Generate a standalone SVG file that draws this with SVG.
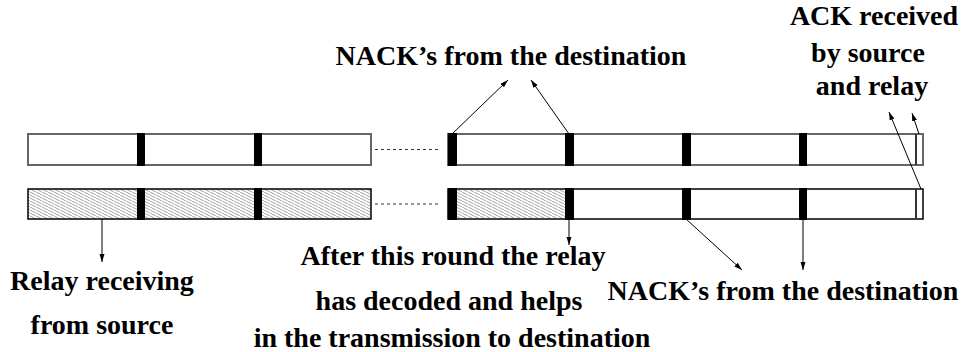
<svg xmlns="http://www.w3.org/2000/svg" width="966" height="352" viewBox="0 0 966 352">
<style>
.lbl{font-family:"Liberation Serif","Times New Roman",serif;font-weight:bold;font-size:28px;fill:#000;text-anchor:middle}
.topbox{fill:#fff;stroke:#666;stroke-width:2}
.botbox{stroke:#000;stroke-width:1.5}
.bar{fill:#000}
.conn{stroke:#000;stroke-width:1;fill:none}
.arrow{marker-end:url(#ah)}
.dash{stroke:#333;stroke-width:1;stroke-dasharray:3 3}
</style>
<defs>
<pattern id="hatch" patternUnits="userSpaceOnUse" width="6" height="3">
<rect width="6" height="3" fill="#fff"/>
<line x1="0" y1="0" x2="6" y2="3" stroke="#9a9a9a" stroke-width="0.9"/>
<line x1="-6" y1="0" x2="0" y2="3" stroke="#9a9a9a" stroke-width="0.9"/>
<line x1="6" y1="0" x2="12" y2="3" stroke="#9a9a9a" stroke-width="0.9"/>
</pattern>
<marker id="ah" markerUnits="userSpaceOnUse" markerWidth="9" markerHeight="6" refX="8" refY="2.5" orient="auto">
<path d="M0,0 L8,2.5 L0,5 z" fill="#000"/>
</marker>
</defs>

<g id="top-left-frames">
<rect class="topbox" x="28" y="134" width="343" height="31"/>
<rect class="bar" x="137" y="133" width="8" height="33"/>
<rect class="bar" x="254" y="133" width="8" height="33"/>
</g>
<g id="top-right-frames">
<rect class="topbox" x="448" y="134" width="475" height="31"/>
<rect class="bar" x="448" y="133" width="9" height="33"/>
<rect class="bar" x="565" y="133" width="9" height="33"/>
<rect class="bar" x="682" y="133" width="9" height="33"/>
<rect class="bar" x="799" y="133" width="8" height="33"/>
<rect x="915" y="134" width="2" height="31" fill="#333"/>
</g>
<g id="bottom-left-frames">
<rect class="botbox" x="28" y="189" width="343" height="30" fill="url(#hatch)"/>
<rect class="bar" x="137" y="188" width="8" height="32"/>
<rect class="bar" x="254" y="188" width="8" height="32"/>
</g>
<g id="bottom-right-frames">
<rect class="botbox" x="448" y="189" width="475" height="30" fill="#fff"/>
<rect x="457" y="190" width="108" height="28" fill="url(#hatch)"/>
<rect class="bar" x="448" y="188" width="9" height="32"/>
<rect class="bar" x="565" y="188" width="9" height="32"/>
<rect class="bar" x="682" y="188" width="9" height="32"/>
<rect class="bar" x="799" y="188" width="8" height="32"/>
<rect x="915" y="189" width="2" height="30" fill="#333"/>
</g>

<g id="label-nack-top"><text class="lbl" x="511" y="65">NACK’s from the destination</text></g>
<g id="label-ack">
<text class="lbl" x="874" y="25">ACK received</text>
<text class="lbl" x="868" y="62">by source</text>
<text class="lbl" x="872" y="95">and relay</text>
</g>
<g id="label-relay-receiving">
<text class="lbl" x="102" y="290">Relay receiving</text>
<text class="lbl" x="102" y="334">from source</text>
</g>
<g id="label-after-round">
<text class="lbl" x="453" y="265">After this round the relay</text>
<text class="lbl" x="449" y="310">has decoded and helps</text>
<text class="lbl" x="452" y="347">in the transmission to destination</text>
</g>
<g id="label-nack-bottom"><text class="lbl" x="783" y="300">NACK’s from the destination</text></g>

<g id="connectors">
<line class="dash" x1="375" y1="149.5" x2="440" y2="149.5"/>
<line class="dash" x1="375" y1="204" x2="440" y2="204"/>
<line class="conn arrow" x1="452" y1="134" x2="508" y2="80"/>
<line class="conn arrow" x1="569" y1="134" x2="531" y2="80"/>
<line class="conn arrow" x1="919" y1="134" x2="912" y2="113"/>
<line class="conn arrow" x1="921" y1="189" x2="889" y2="112"/>
<line class="conn arrow" x1="102" y1="219" x2="102" y2="262"/>
<line class="conn arrow" x1="569" y1="219" x2="569" y2="245"/>
<line class="conn arrow" x1="686" y1="219" x2="742" y2="270"/>
<line class="conn arrow" x1="803" y1="219" x2="803" y2="270"/>
</g>
</svg>
